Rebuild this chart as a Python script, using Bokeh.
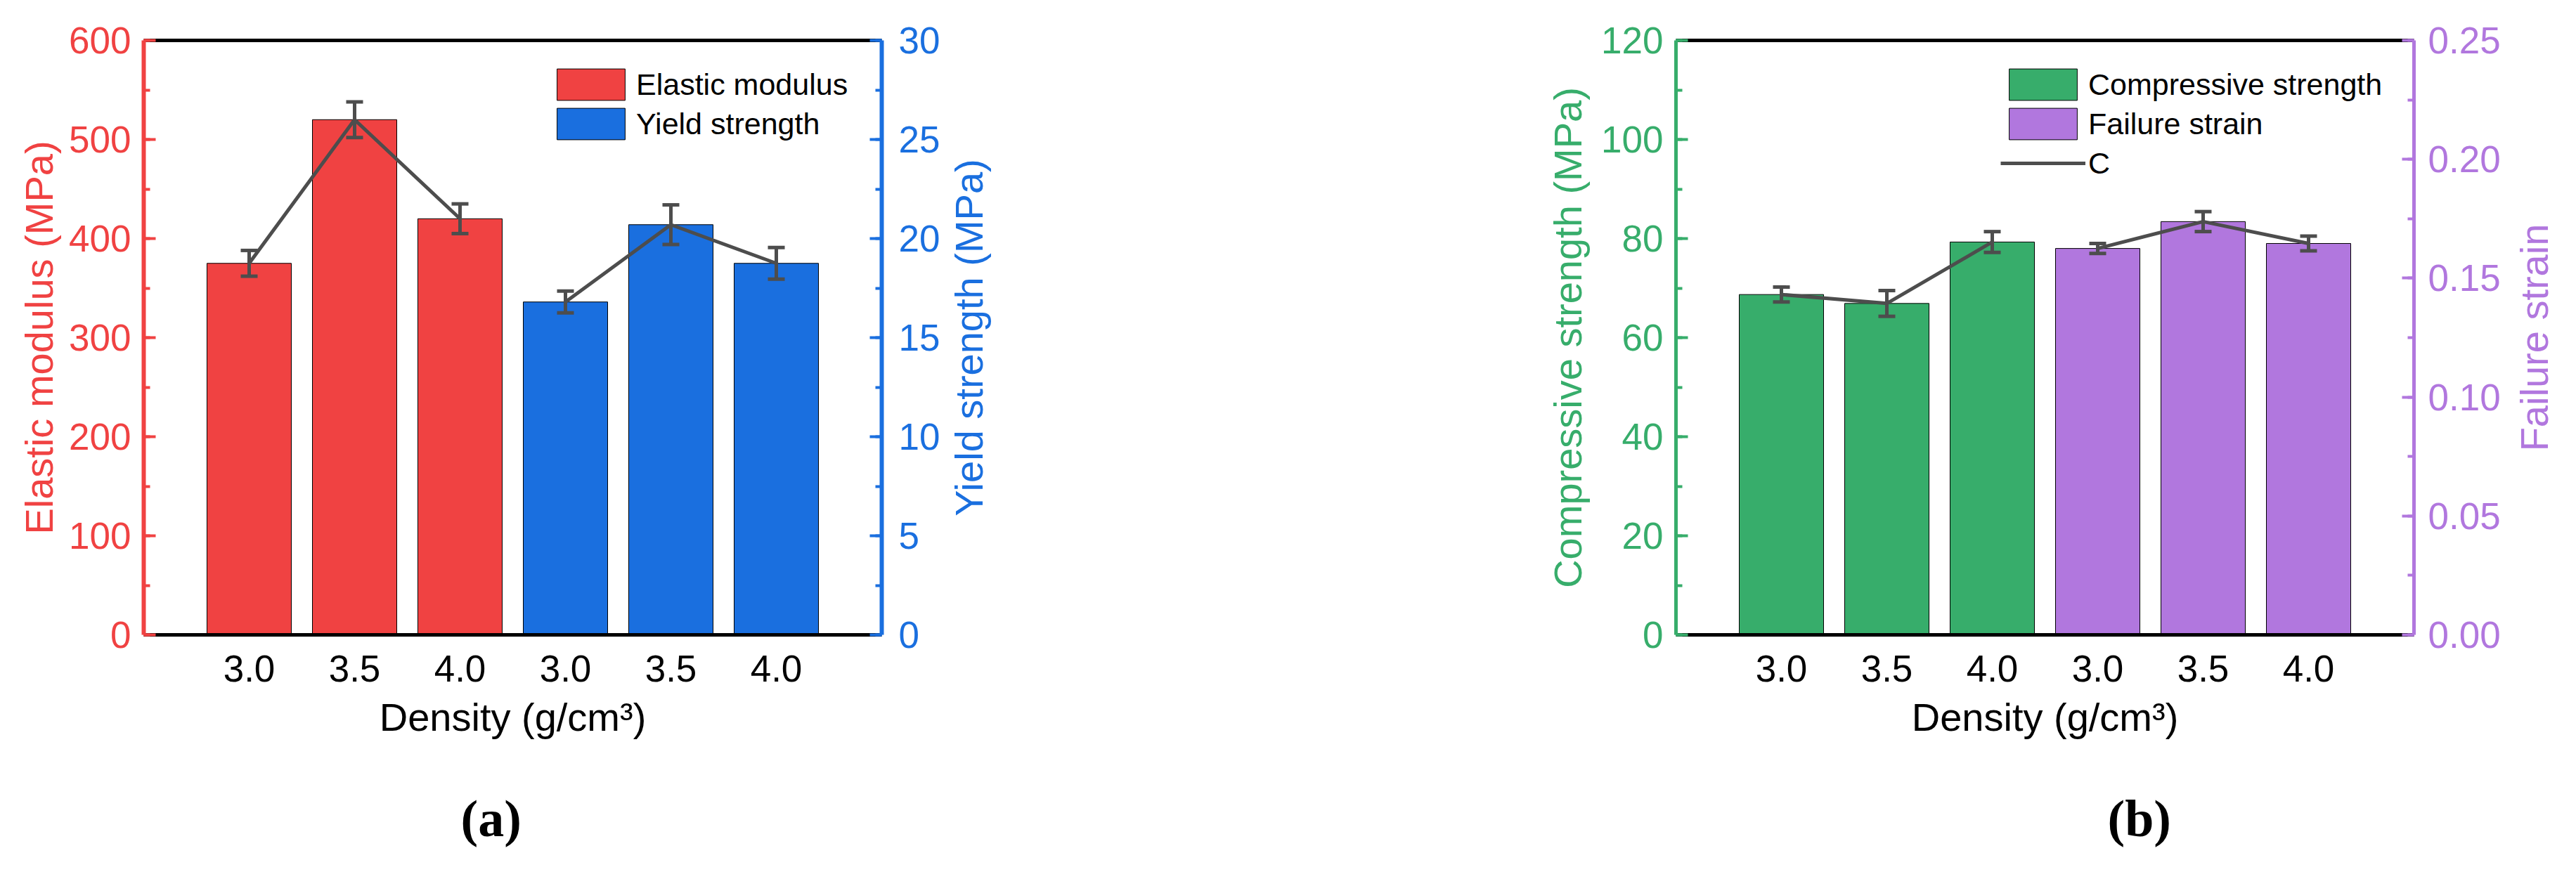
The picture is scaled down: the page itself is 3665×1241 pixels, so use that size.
import numpy as np
from bokeh.plotting import figure
from bokeh.layouts import row
from bokeh.models import (ColumnDataSource, Range1d, LinearAxis, FixedTicker,
                          SingleIntervalTicker, Whisker, TeeHead, Legend, LegendItem,
                          Title, PrintfTickFormatter)
from bokeh.embed import file_html
from bokeh.resources import INLINE

# ---------------- data ----------------
density = ["3.0", "3.5", "4.0", "3.0", "3.5", "4.0"]

elastic_modulus = [375, 520, 420]
elastic_modulus_err = [13, 18, 15]
yield_strength = [16.8, 20.7, 18.75]
yield_strength_err = [0.55, 1.0, 0.8]

compressive_strength = [68.7, 66.9, 79.3]
compressive_strength_err = [1.5, 2.6, 2.1]
failure_strain = [0.1625, 0.1738, 0.1646]
failure_strain_err = [0.0021, 0.0042, 0.0031]

# ---------------- style ----------------
RED = "#F04242"
BLUE = "#1A6FDF"
GREEN = "#37AD6B"
PURPLE = "#B177DE"
GRAY = "#4D4D4D"
FONT = "Liberation Sans"
TICK_FS = "53px"
LABEL_FS = "56px"
LEG_FS = "43px"

H = 1225
FRAME_W = 1050
FRAME_H = 846
TOP = 57
BOTTOM = H - TOP - FRAME_H
LEG_ITEM_H = 56
LEG_GLYPH_W = 121


def style_y_axis(ax, color, interval, lw, standoff, label_standoff):
    ax.ticker = SingleIntervalTicker(interval=interval, num_minor_ticks=2)
    ax.axis_line_color = color
    ax.axis_line_width = lw
    ax.major_tick_line_color = color
    ax.minor_tick_line_color = color
    ax.major_tick_line_width = 4
    ax.minor_tick_line_width = 4
    ax.major_tick_in = 17
    ax.major_tick_out = 0
    ax.minor_tick_in = 9
    ax.minor_tick_out = 0
    ax.major_label_text_color = color
    ax.major_label_text_font = FONT
    ax.major_label_text_font_size = TICK_FS
    ax.major_label_standoff = standoff
    ax.axis_label_text_color = color
    ax.axis_label_text_font = FONT
    ax.axis_label_text_font_size = LABEL_FS
    ax.axis_label_text_font_style = "normal"
    ax.axis_label_standoff = label_standoff


def make_panel(border_left, border_right, left_vals, left_err, right_vals, right_err,
               left_end, right_end, left_int, right_int, left_color, right_color,
               left_label, left_label_standoff, left_name, right_name, line_name,
               axis_lw, right_standoff, legend_left, caption, caption_offset,
               right_fmt=None):
    xs = np.arange(1, len(density) + 1)
    x1 = xs[:len(left_vals)]
    x2 = xs[len(left_vals):]
    width = border_left + FRAME_W + border_right
    p = figure(width=width, height=H, output_backend="svg", toolbar_location=None,
               x_range=Range1d(0, len(density) + 1), y_range=Range1d(0, left_end),
               min_border_left=border_left, min_border_right=border_right,
               min_border_top=TOP, min_border_bottom=BOTTOM)
    p.extra_y_ranges = {"right": Range1d(0, right_end)}
    p.xgrid.visible = False
    p.ygrid.visible = False
    p.outline_line_color = None
    p.background_fill_color = "white"
    p.border_fill_color = "white"

    # x axis
    xa = p.xaxis[0]
    xa.ticker = FixedTicker(ticks=list(xs))
    xa.major_label_overrides = {int(x): d for x, d in zip(xs, density)}
    xa.axis_line_color = "black"
    xa.axis_line_width = 5
    xa.major_tick_in = 0
    xa.major_tick_out = 0
    xa.minor_tick_in = 0
    xa.minor_tick_out = 0
    xa.major_label_text_font = FONT
    xa.major_label_text_font_size = TICK_FS
    xa.major_label_text_color = "black"
    xa.major_label_standoff = 29
    xa.axis_label = "Density (g/cm³)"
    xa.axis_label_text_font = FONT
    xa.axis_label_text_font_size = LABEL_FS
    xa.axis_label_text_font_style = "normal"
    xa.axis_label_text_color = "black"
    xa.axis_label_standoff = 16

    # top line
    top = LinearAxis(ticker=FixedTicker(ticks=[]), axis_line_color="black",
                     axis_line_width=5, major_tick_in=0, major_tick_out=0,
                     minor_tick_in=0, minor_tick_out=0,
                     major_label_text_font_size="0px")
    p.add_layout(top, "above")

    # left axis
    ya = p.yaxis[0]
    ya.axis_label = left_label
    style_y_axis(ya, left_color, left_int, axis_lw, 18, left_label_standoff)

    # right axis (its title is drawn by a narrow neighbour figure)
    ra = LinearAxis(y_range_name="right")
    style_y_axis(ra, right_color, right_int, axis_lw, right_standoff, 0)
    if right_fmt is not None:
        ra.formatter = right_fmt
    p.add_layout(ra, "right")

    # bars
    b1 = p.vbar(x=x1, top=left_vals, width=0.8, fill_color=left_color,
                line_color="black", line_width=1)
    b2 = p.vbar(x=x2, top=right_vals, width=0.8, fill_color=right_color,
                line_color="black", line_width=1, y_range_name="right")

    # mean lines
    l1 = p.line(x=x1, y=left_vals, line_color=GRAY, line_width=5)
    p.line(x=x2, y=right_vals, line_color=GRAY, line_width=5, y_range_name="right")

    # error bars
    for xv, vals, errs, rname in ((x1, left_vals, left_err, "default"),
                                  (x2, right_vals, right_err, "right")):
        v = np.array(vals, dtype=float)
        e = np.array(errs, dtype=float)
        src = ColumnDataSource(dict(x=xv, upper=v + e, lower=v - e))
        w = Whisker(base="x", upper="upper", lower="lower", source=src,
                    line_color=GRAY, line_width=5, level="overlay",
                    upper_head=TeeHead(size=24, line_color=GRAY, line_width=5),
                    lower_head=TeeHead(size=24, line_color=GRAY, line_width=5),
                    y_range_name=rname)
        p.add_layout(w)

    items = [LegendItem(label=left_name, renderers=[b1]),
             LegendItem(label=right_name, renderers=[b2])]
    if line_name:
        items.append(LegendItem(label=line_name, renderers=[l1]))
    n = len(items)
    leg_h = LEG_ITEM_H * n
    leg = Legend(items=items, glyph_width=LEG_GLYPH_W, glyph_height=LEG_ITEM_H,
                 label_height=LEG_ITEM_H, spacing=0, padding=0, margin=0,
                 label_standoff=4, label_text_font=FONT, label_text_font_size=LEG_FS,
                 label_text_color="black",
                 border_line_color=None, background_fill_alpha=0)
    leg_top = 35
    leg.location = (legend_left, FRAME_H - leg_top - leg_h)
    p.add_layout(leg)

    # spacer + caption below the x axis
    p.add_layout(Title(text=" ", text_font_size="58px", standoff=0), "below")
    cap = Title(text=caption, align="left", offset=caption_offset,
                text_font="Liberation Serif", text_font_size="74px",
                text_font_style="bold", text_color="black", standoff=0)
    p.add_layout(cap, "below")
    return p


def side_title(width, text, color):
    f = figure(width=width, height=H, output_backend="svg", toolbar_location=None,
               x_axis_location=None, y_axis_location=None,
               min_border_left=0, min_border_right=0,
               min_border_top=TOP, min_border_bottom=BOTTOM)
    f.xgrid.visible = False
    f.ygrid.visible = False
    f.outline_line_color = None
    f.border_fill_color = "white"
    f.add_layout(Title(text=text, align="center", text_font=FONT,
                       text_font_size=LABEL_FS, text_font_style="normal",
                       text_color=color, standoff=0), "left")
    return f


pa = make_panel(204, 90, elastic_modulus, elastic_modulus_err,
                yield_strength, yield_strength_err, 600, 30, 100, 5, RED, BLUE,
                "Elastic modulus (MPa)", 8,
                "Elastic modulus", "Yield strength", None, 6, 24,
                576, "(a)", 451)
la = side_title(100, "Yield strength (MPa)", BLUE)

pb = make_panel(940, 137, compressive_strength, compressive_strength_err,
                failure_strain, failure_strain_err, 120, 0.25, 20, 0.05, GREEN, PURPLE,
                "Compressive strength (MPa)", 13,
                "Compressive strength", "Failure strain", "C", 5, 20,
                462, "(b)", 614, right_fmt=PrintfTickFormatter(format="%.2f"))
lb = side_title(78, "Failure strain", PURPLE)

layout = row(pa, la, pb, lb)
open("out.html", "w").write(file_html(layout, INLINE))
